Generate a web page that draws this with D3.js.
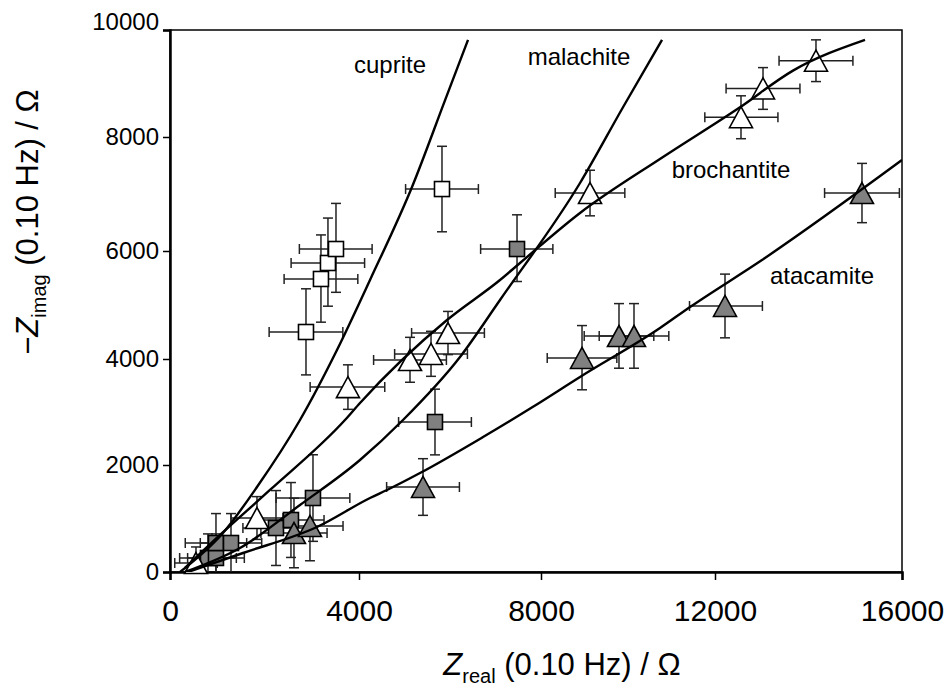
<!DOCTYPE html>
<html>
<head>
<meta charset="utf-8">
<script src="https://cdn.jsdelivr.net/npm/d3@7"></script>
<style>
  body { margin: 0; background: #fff; }
  svg { display: block; }
</style>
</head>
<body>
<div id="chart"></div>
<script>
// axis ticks
const xTicks = [0, 4000, 8000, 12000, 16000];
const yTicks = [0, 2000, 4000, 6000, 8000, 10000];

// open squares
const oSqX    = [2878, 3195, 3343, 3513, 5824];
const oSqY    = [4500, 5482, 5778, 6035, 7087];
const oSqXErr = [780, 780, 780, 775, 800];
const oSqYErr = [800, 800, 800, 800, 750];

// grey squares
const gSqX    = [804, 973, 973, 1291, 2243, 2560, 3026, 5670, 7473];
const gSqY    = [262, 262, 542, 542, 822, 972, 1383, 2811, 6035];
const gSqXErr = [600, 600, 650, 650, 700, 700, 780, 800, 800];
const gSqYErr = [450, 450, 550, 550, 700, 700, 810, 620, 600];

// open triangles
const oTrX    = [550, 1841, 3766, 5121, 5583, 5956, 9127, 12556, 13027, 14160];
const oTrY    = [168, 1009, 3470, 3981, 4093, 4481, 7017, 8370, 8907, 9426];
const oTrXErr = [450, 550, 800, 800, 800, 800, 800, 790, 790, 790];
const oTrYErr = [300, 400, 420, 420, 420, 400, 400, 400, 390, 390];

// grey triangles
const gTrX    = [2624, 2962, 5407, 8943, 9793, 10138, 12214, 15144];
const gTrY    = [729, 860, 1589, 4019, 4426, 4426, 4982, 7017];
const gTrXErr = [700, 700, 800, 800, 800, 800, 800, 800];
const gTrYErr = [650, 650, 530, 600, 600, 600, 590, 520];

// fitted curves
const cupriteX = [212, 1121, 1841, 2751, 3534, 4242, 5165, 5890, 6396];
const cupriteY = [0, 729, 1589, 2849, 4167, 5463, 7123, 8685, 9815];
const malachiteX = [317, 1481, 2751, 4022, 4967, 6220, 7099, 8897, 9885, 10782];
const malachiteY = [0, 449, 1252, 2094, 2849, 4037, 5093, 7193, 8556, 9815];
const brochantiteX = [317, 1058, 2116, 3703, 4022, 5934, 7099, 7539, 8897, 10805, 12535, 13668, 15209];
const brochantiteY = [75, 692, 1533, 2849, 3170, 4722, 5463, 5778, 6667, 7649, 8556, 9241, 9815];
const atacamiteX = [381, 1545, 3110, 4242, 4615, 5341, 6726, 7816, 8897, 10736, 11426, 13005, 16000];
const atacamiteY = [0, 355, 841, 1383, 1533, 1850, 2528, 3094, 3661, 4574, 4963, 5833, 7596];

const curveNames = ['cuprite', 'malachite', 'brochantite', 'atacamite'];

const W = 948, H = 692;
const FONT = "'Liberation Sans', Arial, sans-serif";

const svg = d3.select('#chart').append('svg')
    .attr('width', W).attr('height', H)
    .style('font-family', FONT);

const x = d3.scaleLinear().domain(xTicks).range([170, 359, 541, 715, 902]);
const y = d3.scaleLinear().domain(yTicks).range([572, 465, 359, 251, 137, 30]);

// frame
svg.append('rect')
    .attr('x', x(0)).attr('y', y(10000))
    .attr('width', x(16000) - x(0)).attr('height', y(0) - y(10000))
    .attr('fill', 'none').attr('stroke', '#000').attr('stroke-width', 1.5);

const xAxis = svg.append('g')
    .attr('transform', `translate(0,${y(0)})`)
    .call(d3.axisBottom(x).tickValues(xTicks).tickSize(8).tickPadding(20).tickFormat(d3.format('d')));
const yAxis = svg.append('g')
    .attr('transform', `translate(${x(0)},0)`)
    .call(d3.axisLeft(y).tickValues(yTicks).tickSize(7).tickPadding(4).tickFormat(d3.format('d')));

[xAxis, yAxis].forEach(a => {
    a.select('.domain').attr('stroke', '#000').attr('stroke-width', 2.5);
    a.selectAll('.tick line').attr('stroke', '#000').attr('stroke-width', 1.5);
    a.selectAll('.tick text').attr('fill', '#000').attr('font-family', FONT);
});
xAxis.selectAll('.tick text').attr('font-size', 30);
yAxis.selectAll('.tick text').attr('font-size', 24);
// top label sits a little above its tick in the original
yAxis.selectAll('.tick text').filter(d => d === 10000).attr('transform', 'translate(0,-8)');

const plot = svg.append('g');
svg.append('clipPath').attr('id', 'clip').append('rect')
    .attr('x', x(0)).attr('y', y(10000))
    .attr('width', x(16000) - x(0)).attr('height', y(0) - y(10000));

function makeSeries(xs, ys, xe, ye) {
    return xs.map((v, i) => ({ x: v, y: ys[i], xe: xe[i], ye: ye[i] }));
}
const series = [
    { pts: makeSeries(oSqX, oSqY, oSqXErr, oSqYErr), shape: 'square', fill: '#fff' },
    { pts: makeSeries(gSqX, gSqY, gSqXErr, gSqYErr), shape: 'square', fill: '#808080' },
    { pts: makeSeries(oTrX, oTrY, oTrXErr, oTrYErr), shape: 'triangle', fill: '#fff' },
    { pts: makeSeries(gTrX, gTrY, gTrXErr, gTrYErr), shape: 'triangle', fill: '#808080' }
];

// error bars
const cap = 5;
series.forEach(s => {
    const eb = plot.append('g').attr('stroke', '#222').attr('stroke-width', 1.5).attr('fill', 'none');
    s.pts.forEach(p => {
        const cx = x(p.x), cy = y(p.y);
        const x0 = x(Math.max(0, p.x - p.xe)), x1 = x(p.x + p.xe);
        const y0 = y(Math.max(0, p.y - p.ye)), y1 = y(p.y + p.ye);
        eb.append('line').attr('x1', x0).attr('x2', x1).attr('y1', cy).attr('y2', cy);
        eb.append('line').attr('x1', x0).attr('x2', x0).attr('y1', cy - cap).attr('y2', cy + cap);
        eb.append('line').attr('x1', x1).attr('x2', x1).attr('y1', cy - cap).attr('y2', cy + cap);
        eb.append('line').attr('x1', cx).attr('x2', cx).attr('y1', y0).attr('y2', y1);
        if (p.y - p.ye > 0) eb.append('line').attr('x1', cx - cap).attr('x2', cx + cap).attr('y1', y0).attr('y2', y0);
        eb.append('line').attr('x1', cx - cap).attr('x2', cx + cap).attr('y1', y1).attr('y2', y1);
    });
});

// markers
const sq = 15, tw = 23, th = 21;
series.forEach(s => {
    const g = plot.append('g').attr('fill', s.fill).attr('stroke', '#000').attr('stroke-width', 1.6);
    s.pts.forEach(p => {
        const cx = x(p.x), cy = y(p.y);
        if (s.shape === 'square') {
            g.append('rect').attr('x', cx - sq / 2).attr('y', cy - sq / 2).attr('width', sq).attr('height', sq);
        } else {
            g.append('path').attr('d', `M${cx},${cy - th / 2}L${cx + tw / 2},${cy + th / 2}L${cx - tw / 2},${cy + th / 2}Z`);
        }
    });
});

// curves
const curveData = [
    [cupriteX, cupriteY], [malachiteX, malachiteY],
    [brochantiteX, brochantiteY], [atacamiteX, atacamiteY]
];
const line = d3.line().x(d => x(d[0])).y(d => y(d[1])).curve(d3.curveMonotoneX);
const lines = plot.append('g').attr('clip-path', 'url(#clip)');
curveData.forEach(([xs, ys]) => {
    lines.append('path')
        .attr('d', line(xs.map((v, i) => [v, ys[i]])))
        .attr('fill', 'none').attr('stroke', '#000').attr('stroke-width', 2.4);
});

// curve labels
const labelPos = [[390, 73], [579, 65], [731, 178], [822, 284]];
curveNames.forEach((n, i) => {
    svg.append('text').attr('x', labelPos[i][0]).attr('y', labelPos[i][1])
        .attr('text-anchor', 'middle').attr('font-size', 24).attr('fill', '#000').text(n);
});

// axis titles
const xt = svg.append('text').attr('x', 562).attr('y', 675)
    .attr('text-anchor', 'middle').attr('font-size', 31).attr('fill', '#000');
xt.append('tspan').attr('font-style', 'italic').text('Z');
xt.append('tspan').attr('font-size', 20).attr('dy', 8).text('real');
xt.append('tspan').attr('dy', -8).text(' (0.10 Hz) / Ω');

const yt = svg.append('text')
    .attr('transform', 'translate(38,222) rotate(-90)')
    .attr('text-anchor', 'middle').attr('font-size', 31).attr('fill', '#000');
yt.append('tspan').text('−');
yt.append('tspan').attr('font-style', 'italic').text('Z');
yt.append('tspan').attr('font-size', 20).attr('dy', 8).text('imag');
yt.append('tspan').attr('dy', -8).text(' (0.10 Hz) / Ω');
</script>
</body>
</html>
